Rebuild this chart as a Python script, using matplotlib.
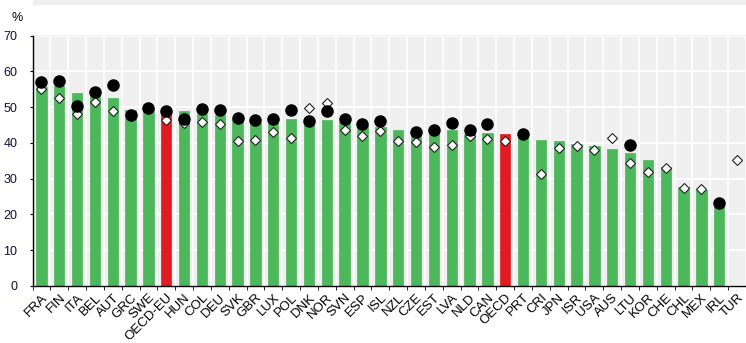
import numpy as np
import matplotlib
matplotlib.use("Agg")
import matplotlib.pyplot as plt
from matplotlib.patches import Rectangle

plt.rcParams['font.family'] = ['Liberation Sans', 'DejaVu Sans']

countries = ["FRA", "FIN", "ITA", "BEL", "AUT", "GRC", "SWE", "OECD-EU", "HUN", "COL",
             "DEU", "SVK", "GBR", "LUX", "POL", "DNK", "NOR", "SVN", "ESP", "ISL",
             "NZL", "CZE", "EST", "LVA", "NLD", "CAN", "OECD", "PRT", "CRI", "JPN",
             "ISR", "USA", "AUS", "LTU", "KOR", "CHE", "CHL", "MEX", "IRL", "TUR"]
nan = np.nan
bars = [55.5, 55.8, 53.8, 53.0, 52.6, 49.3, 49.4, 48.0, 49.0, 48.0,
        47.8, 46.8, 45.6, 45.8, 46.6, 45.8, 46.5, 45.8, 44.6, 44.4,
        43.7, 42.5, 42.8, 43.5, 42.6, 42.7, 42.6, 42.2, 40.7, 40.4,
        39.8, 39.0, 38.4, 37.2, 35.1, 33.2, 27.8, 26.8, 22.2, nan]
circles = [57.1, 57.3, 50.4, 54.3, 56.1, 47.8, 49.8, 49.0, 46.6, 49.5,
           49.2, 46.9, 46.4, 46.7, 49.2, 46.2, 49.0, 46.6, 45.2, 46.0,
           nan, 42.9, 43.7, 45.5, 43.7, 45.3, nan, 42.5, nan, nan,
           nan, nan, nan, 39.3, nan, nan, nan, nan, 23.3, nan]
diamonds = [55.0, 52.5, 48.1, 51.5, 48.9, 47.6, 49.6, 46.4, 45.6, 45.8,
            45.3, 40.5, 40.7, 43.0, 41.3, 49.7, 51.1, 43.5, 41.8, 43.4,
            40.5, 40.1, 38.9, 39.5, 41.9, 41.2, 40.6, nan, 31.3, 38.6,
            39.1, 38.1, 41.4, 34.5, 31.8, 33.1, 27.5, 27.0, nan, 35.3]
highlight = ["OECD-EU", "OECD"]

green = "#4cb85b"
red = "#e01b22"
x = np.arange(len(countries))
colors = [red if c in highlight else green for c in countries]

fig = plt.figure(figsize=(7.46, 3.43), dpi=100)
ax = fig.add_axes([32.5 / 746, 1 - 286 / 343, 1 - 32.5 / 746, (286 - 35.5) / 343])
ax.set_facecolor("#efefef")

# empty legend band at the top
fig.patches.append(Rectangle((33 / 746, 1 - 5 / 343), 1, 5 / 343, transform=fig.transFigure,
                             facecolor="#efefef", edgecolor="none"))

ax.bar(x, bars, width=0.58, color=colors, edgecolor=colors, linewidth=0.5, zorder=2)
ax.plot(x, diamonds, linestyle="none", marker="D", markersize=5.3, markerfacecolor="white",
        markeredgecolor="#222222", markeredgewidth=0.8, zorder=3)
ax.plot(x, circles, linestyle="none", marker="o", markersize=8, color="black", zorder=4)

ax.set_xlim(-0.5, len(countries) - 0.5)
ax.set_ylim(0, 70)
ax.set_yticks(np.arange(0, 71, 10))
ax.set_xticks(x)
ax.set_xticklabels(countries, rotation=45, ha="right", rotation_mode="anchor", fontsize=9.5)
ax.set_xticks(np.arange(-0.5, len(countries), 1), minor=True)
ax.tick_params(axis="x", which="major", length=0, pad=4)
ax.tick_params(axis="x", which="minor", length=3, direction="out", color="black")
ax.tick_params(axis="y", length=2, labelsize=9, pad=9, labelcolor="#10103a")

ax.grid(axis="y", color="white", linewidth=1.2, zorder=0)
ax.grid(axis="x", which="minor", color="white", linewidth=1.2, zorder=0)
ax.set_axisbelow(True)

for s in ["top", "right"]:
    ax.spines[s].set_visible(False)
ax.spines["left"].set_linewidth(1)
ax.spines["bottom"].set_linewidth(1)

fig.text(11 / 746, 1 - 21 / 343, "%", fontsize=9, ha="left", va="baseline")

fig.savefig("out.png", dpi=100)
